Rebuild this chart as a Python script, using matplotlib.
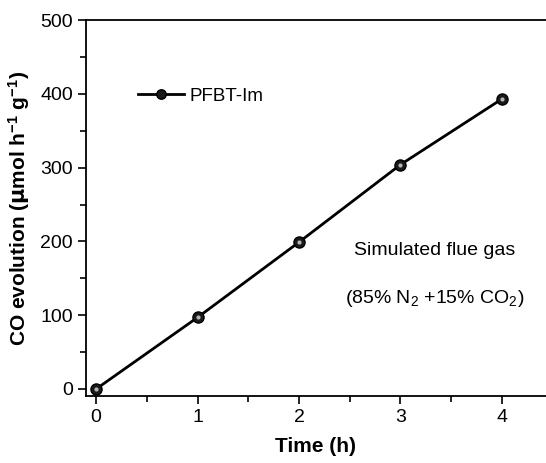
import matplotlib
matplotlib.use("Agg")
import matplotlib.pyplot as plt

plt.rcParams['font.family'] = ['Liberation Sans', 'DejaVu Sans']
plt.rcParams['mathtext.default'] = 'regular'

time_h = [0, 1, 2, 3, 4]
co_evolution = [0, 97, 199, 304, 393]
series_label = 'PFBT-Im'

fig = plt.figure(figsize=(5.46, 4.63), dpi=100)
ax = fig.add_axes([0.1575, 0.1447, 0.8425, 0.812])

ax.plot(time_h, co_evolution, color='black', lw=2, marker='o', ms=8,
        mfc='#1a1a1a', mec='black', mew=1.0, label=series_label)
ax.plot(time_h, co_evolution, ls='none', marker='o', ms=3,
        mfc='#b5b5b5', mec='none')

ax.set_xlim(-0.1, 4.435)
ax.set_ylim(-9.5, 500)
ax.set_xticks([0, 1, 2, 3, 4])
ax.set_xticks([0.5, 1.5, 2.5, 3.5], minor=True)
ax.set_yticks([0, 100, 200, 300, 400, 500])
ax.set_yticks([50, 150, 250, 350, 450], minor=True)
ax.tick_params(which='major', direction='out', length=6, width=1.2, labelsize=14)
ax.tick_params(which='minor', direction='out', length=4, width=1.2)
ax.spines['right'].set_visible(False)
for s in ['left', 'bottom', 'top']:
    ax.spines[s].set_linewidth(1.3)

ax.set_xlabel('Time (h)', fontsize=15, fontweight='bold', labelpad=8)
ax.set_ylabel(r'CO evolution ($\mathbf{\mu}$mol h$^{-1}$ g$^{-1}$)',
              fontsize=15, fontweight='bold', labelpad=6)

ax.legend(loc='center left', bbox_to_anchor=(0.41, 397),
          bbox_transform=ax.transData, frameon=False, borderpad=0,
          borderaxespad=0, fontsize=13.5, handlelength=2.45,
          handletextpad=0.3, markerscale=0.85)

ax.text(3.335, 188, 'Simulated flue gas', fontsize=14, ha='center', va='center')
ax.text(3.335, 123, r'(85% N$_2$ +15% CO$_2$)', fontsize=14, ha='center', va='center')

fig.savefig('out.png', dpi=100)
